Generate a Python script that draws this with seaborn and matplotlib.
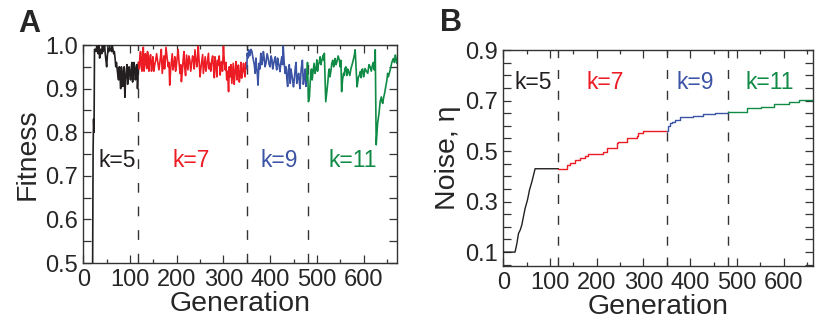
import numpy as np
import pandas as pd
import matplotlib
matplotlib.use("Agg")
import matplotlib.pyplot as plt
import seaborn as sns
from matplotlib.ticker import MultipleLocator, FixedLocator, FormatStrFormatter

# ---------------- data: panel A (fitness) ----------------
fit_black_gen = [20, 21, 22, 23, 24, 26, 29, 32, 35, 38, 41, 44, 47, 50, 53, 56, 59, 62, 65, 68,
                 71, 74, 77, 80, 83, 86, 89, 92, 95, 98, 101, 104, 107, 110, 113, 116, 118]
fit_black = [0.50, 0.76, 0.83, 0.80, 0.99, 0.99, 1.00, 0.98, 0.97, 0.99, 1.00, 0.99, 0.98, 0.95,
             0.99, 1.00, 0.99, 1.00, 0.98, 0.97, 0.96, 0.93, 0.95, 0.90, 0.94, 0.92, 0.88, 0.94,
             0.91, 0.95, 0.92, 0.96, 0.93, 0.95, 0.94, 0.90, 0.96]
fit_black_mid_gen = [27.5, 30.5, 33.5, 36.5, 39.5, 42.5, 45.5, 48.5, 51.5, 54.5, 57.5, 60.5, 63.5,
                     66.5, 69.5, 72.5, 75.5, 78.5, 81.5, 84.5, 87.5, 90.5, 93.5, 96.5, 99.5,
                     102.5, 105.5, 108.5, 111.5, 114.5, 117]
fit_black_mid = [0.985, 0.99, 1.0, 0.99, 0.98, 0.985, 1.0, 0.965, 0.975, 0.985, 0.99, 0.985, 0.99,
                 0.985, 0.95, 0.945, 0.92, 0.93, 0.95, 0.905, 0.95, 0.92, 0.955, 0.935, 0.935,
                 0.945, 0.915, 0.96, 0.92, 0.955, 0.92]

fit_red_gen = [118, 121, 124, 127, 130, 133, 136, 139, 142, 146, 149, 153, 157, 162, 167, 171,
               174, 177, 182, 185, 189, 192, 196, 199, 203, 207, 210, 214, 217, 221, 224, 228,
               232, 236, 239, 243, 246, 250, 254, 257, 261, 264, 268, 271, 275, 279, 282, 286,
               289, 293, 296, 300, 304, 307, 311, 314, 318, 321, 325, 329, 332, 336, 339, 343,
               346, 350]
fit_red = [0.96, 0.97, 0.95, 0.98, 0.94, 0.98, 0.946, 0.97, 0.966, 0.94, 0.973, 0.955, 0.98,
           0.943, 0.99, 0.958, 0.945, 0.995, 0.95, 0.908, 0.966, 0.943, 0.973, 0.95, 0.99, 0.935,
           0.916, 0.969, 0.95, 0.977, 0.943, 0.966, 0.958, 0.966, 0.989, 0.95, 0.997, 0.927,
           0.966, 0.935, 0.973, 0.95, 0.981, 0.958, 0.966, 0.943, 0.973, 0.927, 0.954, 0.931,
           0.962, 0.997, 0.943, 0.92, 0.893, 0.927, 0.912, 0.958, 0.939, 0.92, 0.954, 0.935,
           0.924, 0.958, 0.927, 0.946]
fit_red_mid_gen = [119.5, 122.5, 125.5, 128.5, 131.5, 134.5, 137.5, 140.5, 144, 147.5, 151, 155,
                   159.5, 164.5, 169, 172.5, 175.5, 179.5, 183.5, 187, 190.5, 194, 197.5, 201,
                   205, 208.5, 212, 215.5, 219, 222.5, 226, 230, 234, 237.5, 241, 244.5, 248,
                   252, 255.5, 259, 262.5, 266, 269.5, 273, 277, 280.5, 284, 287.5, 291, 294.5,
                   298, 302, 305.5, 309, 312.5, 316, 319.5, 323, 327, 330.5, 334, 337.5, 341,
                   344.5, 348]
fit_red_mid = [0.945, 0.985, 0.94, 0.995, 0.955, 0.96, 0.985, 0.94, 0.978, 0.955, 0.94, 0.965,
               0.96, 0.965, 0.935, 0.975, 0.965, 0.97, 0.96, 0.945, 0.98, 0.955, 0.94, 0.97,
               0.96, 0.955, 0.94, 0.985, 0.93, 0.96, 0.975, 0.94, 0.975, 0.945, 0.97, 0.965,
               0.96, 0.95, 0.978, 0.955, 0.94, 0.965, 0.945, 0.94, 0.975, 0.925, 0.955, 0.965,
               0.975, 0.95, 0.94, 0.96, 0.96, 0.94, 0.95, 0.955, 0.935, 0.91, 0.962, 0.935,
               0.915, 0.96, 0.94, 0.94, 0.96]

fit_blue_gen = [350, 351, 354, 357, 361, 364, 368, 371, 374, 376, 380, 384, 387, 391, 396, 400,
                404, 407, 411, 414, 418, 421, 425, 428, 432, 436, 439, 443, 446, 450, 454, 457,
                461, 464, 467, 471, 475, 478]
fit_blue = [0.946, 0.981, 0.989, 0.977, 0.985, 0.966, 0.935, 0.95, 0.908, 0.958, 0.981, 0.966,
            0.973, 0.958, 0.969, 0.95, 0.966, 0.954, 0.973, 0.943, 0.958, 0.939, 0.973, 0.997,
            0.935, 0.92, 0.943, 0.912, 0.935, 0.904, 0.95, 0.912, 0.935, 0.90, 0.95, 0.91,
            0.945, 0.92]
fit_blue_mid_gen = [352.5, 355.5, 359, 362.5, 366, 369.5, 372.5, 378, 382, 385.5, 389, 393.5,
                    398, 402, 405.5, 409, 412.5, 416, 419.5, 423, 426.5, 430, 434, 437.5, 441,
                    444.5, 448, 452, 455.5, 459, 462.5, 465.5, 469, 473, 476.5]
fit_blue_mid = [0.97, 0.975, 0.99, 0.975, 0.955, 0.97, 0.935, 0.945, 0.955, 0.985, 0.95, 0.98,
                0.955, 0.975, 0.945, 0.965, 0.955, 0.97, 0.95, 0.96, 0.955, 0.96, 0.95, 0.905,
                0.955, 0.945, 0.92, 0.925, 0.96, 0.925, 0.915, 0.93, 0.965, 0.925, 0.905]

fit_green_gen = [478, 480, 482, 484, 487, 490, 494, 498, 500, 503, 507, 510, 514, 516, 519, 522,
                 525, 528, 532, 536, 539, 543, 548, 550, 553, 557, 560, 564, 568, 573, 578, 582,
                 586, 589, 593, 596, 600, 603, 609, 614, 619, 623, 625, 627, 630, 633, 638, 641,
                 645, 650, 653, 657, 660, 664, 668, 671]
fit_green = [0.92, 0.96, 0.87, 0.88, 0.935, 0.92, 0.958, 0.946, 0.966, 0.954, 0.973, 0.962,
             0.977, 0.981, 0.87, 0.90, 0.935, 0.927, 0.958, 0.95, 0.969, 0.962, 0.966, 0.95,
             0.893, 0.935, 0.946, 0.93, 0.939, 0.946, 0.966, 0.989, 0.904, 0.927, 0.939, 0.943,
             0.927, 0.946, 0.935, 0.95, 0.954, 0.943, 0.989, 0.771, 0.82, 0.843, 0.881, 0.866,
             0.889, 0.92, 0.927, 0.943, 0.958, 0.969, 0.977, 0.958]
fit_green_mid_gen = [485.5, 488.5, 492, 496, 499, 501.5, 505, 508.5, 512, 515, 523.5, 526.5, 530,
                     534, 537.5, 541, 545.5, 551.5, 555, 558.5, 562, 566, 570.5, 575.5, 580,
                     587.5, 591, 594.5, 598, 601.5, 606, 611.5, 616.5, 621, 635.5, 639.5, 643,
                     647.5, 651.5, 655, 658.5, 662, 666, 669.5]
fit_green_mid = [0.91, 0.945, 0.94, 0.935, 0.955, 0.94, 0.96, 0.955, 0.97, 0.965, 0.915, 0.945,
                 0.94, 0.965, 0.96, 0.955, 0.975, 0.965, 0.92, 0.93, 0.95, 0.945, 0.93, 0.955,
                 0.975, 0.915, 0.93, 0.925, 0.945, 0.935, 0.94, 0.955, 0.94, 0.96, 0.87, 0.87,
                 0.88, 0.905, 0.935, 0.935, 0.95, 0.965, 0.96, 0.97]

# ---------------- data: panel B (noise) ----------------
noise_black_gen = [0, 25, 29, 32.5, 36, 39.5, 43, 46.6, 51.6, 56, 61, 68, 118]
noise_black = [0.10, 0.10, 0.134, 0.174, 0.187, 0.207, 0.24, 0.273, 0.306, 0.346, 0.378, 0.43, 0.43]

noise_red_gen = [118, 136, 143, 153.5, 164, 175, 182, 214, 221, 243, 246, 264, 286, 289, 300, 351]
noise_red = [0.43, 0.445, 0.451, 0.464, 0.471, 0.48, 0.488, 0.497, 0.511, 0.53, 0.537, 0.55,
             0.559, 0.57, 0.58, 0.58]

noise_blue_gen = [351, 353, 356, 361, 368, 378, 407, 428, 453, 480]
noise_blue = [0.58, 0.60, 0.61, 0.617, 0.623, 0.633, 0.638, 0.645, 0.649, 0.649]

noise_green_gen = [480, 521, 552, 580, 612, 634, 663]
noise_green = [0.656, 0.669, 0.675, 0.685, 0.695, 0.702, 0.702]

boundaries = [118, 351, 480]
k_labels = ["k=5", "k=7", "k=9", "k=11"]
colors = ["#231f20", "#ed1c24", "#3a53a4", "#0f8b45"]
k_pos_A = [73, 230, 419, 576]
k_pos_B = [64, 217, 410, 570]

# ---------------- style ----------------
sns.set_style("ticks")
plt.rcParams["font.family"] = ["Liberation Sans", "DejaVu Sans"]
plt.rcParams["axes.edgecolor"] = "#333333"
plt.rcParams["axes.linewidth"] = 1.0

fig = plt.figure(figsize=(8.15, 3.22), dpi=100)
axA = fig.add_axes([0.1022, 0.1832, 0.3846, 0.677])
axB = fig.add_axes([0.6176, 0.1739, 0.3800, 0.6708])

fit_sets = [(fit_black_gen + fit_black_mid_gen, fit_black + fit_black_mid),
            (fit_red_gen + fit_red_mid_gen, fit_red + fit_red_mid),
            (fit_blue_gen + fit_blue_mid_gen, fit_blue + fit_blue_mid),
            (fit_green_gen + fit_green_mid_gen, fit_green + fit_green_mid)]
for (g, v), c in zip(fit_sets, colors):
    df = pd.DataFrame({"gen": g, "val": v}).sort_values("gen")
    sns.lineplot(data=df, x="gen", y="val", ax=axA, color=c, lw=1.2,
                 estimator=None, sort=False, zorder=3)

noise_sets = [(noise_black_gen, noise_black, "default"), (noise_red_gen, noise_red, "steps-post"),
              (noise_blue_gen, noise_blue, "steps-post"), (noise_green_gen, noise_green, "steps-post")]
for (g, v, ds), c in zip(noise_sets, colors):
    df = pd.DataFrame({"gen": g, "val": v})
    sns.lineplot(data=df, x="gen", y="val", ax=axB, color=c, lw=1.0,
                 estimator=None, sort=False, drawstyle=ds, zorder=3)

for ax, dash in ((axA, (7, 10)), (axB, (6.5, 8.5))):
    for b in boundaries:
        ax.axvline(b, color="#333333", lw=1.0, dashes=dash, zorder=1)

for lab, c, xa, xb in zip(k_labels, colors, k_pos_A, k_pos_B):
    axA.text(xa, 0.736, lab, color=c, fontsize=16.5, ha="center", va="center")
    axB.text(xb, 0.773, lab, color=c, fontsize=16.5, ha="center", va="center")

axA.set_xlim(0, 671)
axA.set_ylim(0.5, 1.0)
axB.set_xlim(0, 663)
axB.set_ylim(0.045, 0.9)

for ax in (axA, axB):
    ax.xaxis.set_major_locator(MultipleLocator(100))
    ax.xaxis.set_minor_locator(MultipleLocator(50))
    ax.yaxis.set_minor_locator(MultipleLocator(0.05))
    ax.tick_params(which="both", direction="in", top=True, right=True,
                   width=0.9, color="#333333", labelsize=17, pad=4)
    ax.tick_params(axis="x", which="major", length=6)
    ax.tick_params(axis="x", which="minor", length=3)
    ax.tick_params(axis="y", which="both", length=5.5)
    ax.set_xlabel("Generation", fontsize=20.5, labelpad=0)

axA.yaxis.set_major_locator(MultipleLocator(0.1))
axA.yaxis.set_major_formatter(FormatStrFormatter("%.1f"))
axB.yaxis.set_major_locator(FixedLocator([0.1, 0.3, 0.5, 0.7, 0.9]))
axB.yaxis.set_major_formatter(FormatStrFormatter("%.1f"))

axA.set_ylabel("Fitness", fontsize=20.5, labelpad=3)
axB.set_ylabel("Noise, η", fontsize=20.5, labelpad=3)

fig.text(0.0356, 0.925, "A", fontsize=22, fontweight="bold", ha="center", va="center")
fig.text(0.553, 0.929, "B", fontsize=22, fontweight="bold", ha="center", va="center")

fig.savefig("out.png", dpi=100)
